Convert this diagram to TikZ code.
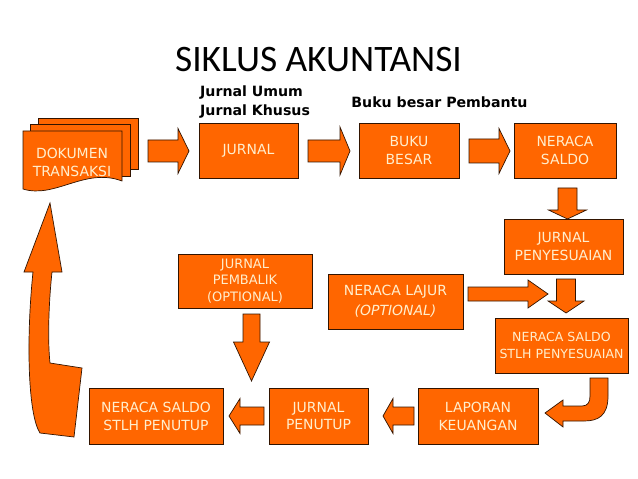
\documentclass[tikz,border=0pt]{standalone}
\usepackage{fontspec}
\setmainfont{DejaVu Sans}
\newfontfamily\titlefont{Carlito}
\definecolor{orng}{RGB}{255,102,0}
\definecolor{edge}{RGB}{50,20,0}
\definecolor{cream}{RGB}{255,238,205}
\tikzset{
  box/.style={draw=edge, fill=orng, line width=0.7bp, text=cream, align=center,
    inner sep=0pt, font=\fontsize{14}{18}\selectfont},
  shapefill/.style={draw=edge, fill=orng, line width=0.7bp, line join=miter},
  label/.style={inner sep=0pt, text=black, font=\bfseries\fontsize{14.2}{19}\selectfont},
}
\newcommand\blkarrow[6]{%
  \begin{scope}[shift={#1},rotate=#2]
    \draw[shapefill] (0,-#4) -- ({#3-#6},-#4) -- ({#3-#6},-#5) -- (#3,0)
      -- ({#3-#6},#5) -- ({#3-#6},#4) -- (0,#4) -- cycle;
  \end{scope}}
\begin{document}
\begin{tikzpicture}[x=1bp,y=-1bp]
\useasboundingbox[fill=white] (0,0) rectangle (638,479);

% title
\node[inner sep=0pt, font=\titlefont\fontsize{37.5}{40}\selectfont] (title) at (318.5,59.5) {SIKLUS AKUNTANSI};

% labels
\node[label, align=left, anchor=west] (lbljurnal) at (200,102) {Jurnal Umum\\Jurnal Khusus};
\node[label] (lblbuku) at (439.5,102.5) {Buku besar Pembantu};

% document stack
\draw[shapefill] (38,118) rectangle (138,169);
\draw[shapefill] (30,124) rectangle (130,176);
\draw[shapefill] (23,131) -- (122,131) -- (122,181)
   .. controls (85,167) and (55,199) .. (23,189) -- cycle;
\node[inner sep=0pt, align=center, text=cream, font=\fontsize{14}{18}\selectfont] (dok) at (72,162) {DOKUMEN\\TRANSAKSI};

% boxes
\node[box, minimum width=99bp, minimum height=55bp] (jurnal) at (248.5,150.5) {JURNAL};
\node[box, minimum width=100bp, minimum height=55bp] (buku) at (409,150.5) {BUKU\\BESAR};
\node[box, minimum width=102bp, minimum height=55bp] (nsaldo) at (565,150.5) {NERACA\\SALDO};
\node[box, minimum width=119bp, minimum height=55bp] (penyes) at (563.5,246.5) {JURNAL\\PENYESUAIAN};
\node[box, minimum width=133bp, minimum height=55bp, font=\fontsize{12.6}{17}\selectfont] (nsstlh) at (561.5,345.5) {NERACA SALDO\\STLH PENYESUAIAN};
\node[box, minimum width=120bp, minimum height=56bp] (laporan) at (478,416) {LAPORAN\\KEUANGAN};
\node[box, minimum width=99bp, minimum height=56bp] (jpenutup) at (318.5,416) {JURNAL\\PENUTUP};
\node[box, minimum width=134bp, minimum height=56bp] (nspenutup) at (156,416) {NERACA SALDO\\STLH PENUTUP};
\node[box, minimum width=134bp, minimum height=54bp, font=\fontsize{13}{16.5}\selectfont] (pembalik) at (245,281) {JURNAL\\PEMBALIK\\(OPTIONAL)};
\node[box, minimum width=135bp, minimum height=55bp, font=\fontsize{14}{20}\selectfont] (lajur) at (395.5,301.5) {NERACA LAJUR\\\textit{(OPTIONAL)}};

% block arrows: start, angle, length, shaft half, head half, head length
\blkarrow{(148,151)}{0}{41}{11}{22.5}{11}
\blkarrow{(308,151)}{0}{42}{11}{24}{10}
\blkarrow{(469,151)}{0}{41}{12}{22.5}{11}
\blkarrow{(567.5,188)}{-90}{31}{9.5}{19}{9}
\blkarrow{(468,294)}{0}{80}{7}{14}{20}
\blkarrow{(566,279)}{-90}{34}{9.5}{18}{12}
\blkarrow{(414,416)}{180}{31}{9}{17.5}{10}
\blkarrow{(264,416)}{180}{35}{9}{17.5}{11}
\blkarrow{(251.5,314)}{-90}{67}{8.5}{18}{39}

% curved arrow to LAPORAN KEUANGAN
\draw[shapefill] (590,378) -- (608,378) -- (608,396)
   .. controls (608,416) and (598,421) .. (584,421) -- (563,421) -- (563,427)
   -- (545,413) -- (563,400) -- (563,406) -- (582,406)
   .. controls (588,406) and (590,402) .. (590,396) -- cycle;

% big curved arrow back to DOKUMEN TRANSAKSI
\draw[shapefill] (50,203) -- (62,272) -- (52,272)
   .. controls (48,310) and (48,345) .. (50,363) -- (82,368) -- (74,437) -- (40,433)
   .. controls (28,415) and (26,340) .. (33,272) -- (24,272) -- cycle;
\end{tikzpicture}
\end{document}
